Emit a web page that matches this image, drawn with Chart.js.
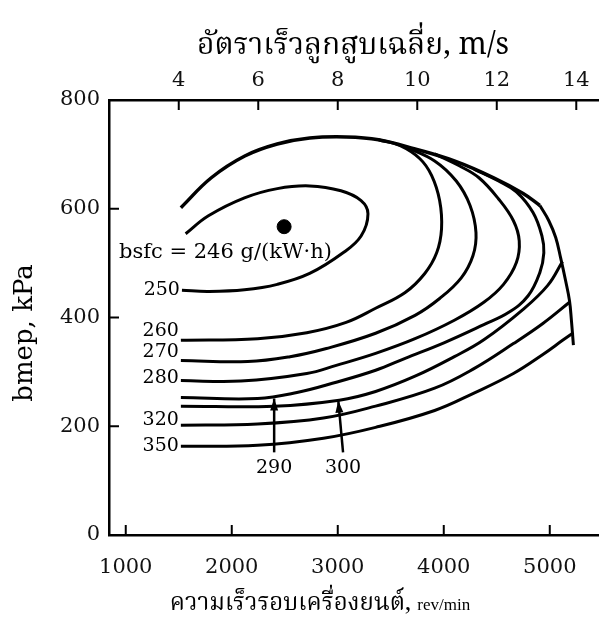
<!DOCTYPE html>
<html>
<head>
<meta charset="utf-8">
<script src="https://cdn.jsdelivr.net/npm/chart.js@4.4.0/dist/chart.umd.min.js"></script>
<style>
  html, body { margin: 0; padding: 0; background: #fff; }
</style>
</head>
<body>
<canvas id="bsfcMap" width="606" height="629"></canvas>
<script>
// bsfc contours: engine speed (rev/min) and bmep (kPa)
const rpm250 = [1530, 1780, 2120, 2430, 2735, 3050, 3220, 3285, 3220, 3030, 2735, 2430, 2120, 1780, 1565];
const bmep250 = [450, 448, 451, 461, 481, 519, 550, 591, 615, 633, 642, 637, 620, 587, 554];

const rpm260 = [1520, 2244, 2708, 3079, 3357, 3636, 3821, 3933, 3979, 3961, 3886, 3775, 3589, 3385];
const bmep260 = [358, 361, 372, 391, 417, 446, 481, 519, 563, 615, 661, 692, 716, 727];

const rpm270 = [1520, 2151, 2550, 2893, 3357, 3729, 3961, 4165, 4276, 4304, 4248, 4118, 3914, 3636];
const bmep270 = [321, 319, 328, 343, 371, 404, 435, 473, 514, 556, 606, 651, 688, 714];

const rpm280 = [1520, 2086, 2708, 2986, 3357, 3729, 4100, 4378, 4564, 4685, 4712, 4657, 4517, 4332, 4146, 3914];
const bmep280 = [284, 283, 297, 312, 334, 361, 395, 428, 461, 501, 541, 578, 618, 657, 679, 701];

const rpm290 = [1520, 2244, 2615, 2986, 3357, 3636, 4007, 4378, 4610, 4796, 4907, 4944, 4926, 4842, 4685, 4517, 4285];
const bmep290 = [253, 251, 262, 281, 303, 325, 354, 387, 409, 440, 483, 519, 550, 593, 631, 651, 673];

const rpm300 = [1520, 2401, 3014, 3357, 3729, 4100, 4378, 4749, 4981, 5120];
const bmep300 = [237, 237, 248, 264, 292, 328, 359, 415, 459, 503];

const rpm320 = [1520, 2244, 2865, 3357, 3914, 4285, 4657, 4935, 5186];
const bmep320 = [202, 204, 215, 237, 270, 306, 352, 389, 428];

const rpm350 = [1520, 2244, 2865, 3357, 3914, 4285, 4657, 4935, 5121, 5223];
const bmep350 = [163, 165, 178, 198, 229, 261, 297, 332, 358, 372];

// full-load line: top arc and the high-speed limit
const rpmTop = [1520, 1807, 2123, 2429, 2736, 3079, 3385, 3729, 4100, 4471, 4749, 4907];
const bmepTop = [602, 657, 697, 719, 730, 732, 727, 710, 688, 657, 628, 606];
const rpmLimit = [4907, 4991, 5056, 5102, 5149, 5186, 5204, 5223];
const bmepLimit = [606, 578, 547, 510, 468, 431, 395, 349];

// minimum bsfc point
const minRpm = [2494];
const minBmep = [567];

// contours labelled with arrows
const arrowLabels = ['290', '300'];
const arrowTailRpm = [2400, 3050];
const arrowTipRpm = [2400, 3005];
const arrowTailBmep = [152, 152];
const arrowTipBmep = [251, 247];

// axis ticks
const rpmTicks = [1000, 2000, 3000, 4000, 5000];
const speedTicks = [4, 6, 8, 10, 12, 14];   // mean piston speed, m/s
const bmepTicks = [0, 200, 400, 600, 800];
const rpmPerSpeed = 375;                    // stroke 80 mm: rpm = Sp * 60 / (2 * 0.08)

const contours = [
  { label: '250', rpm: rpm250, bmep: bmep250, dy: 0 },
  { label: '260', rpm: rpm260, bmep: bmep260, dy: -9 },
  { label: '270', rpm: rpm270, bmep: bmep270, dy: -8 },
  { label: '280', rpm: rpm280, bmep: bmep280, dy: -3 },
  { label: '', rpm: rpm290, bmep: bmep290, dy: 0 },
  { label: '', rpm: rpm300, bmep: bmep300, dy: 0 },
  { label: '320', rpm: rpm320, bmep: bmep320, dy: -5 },
  { label: '350', rpm: rpm350, bmep: bmep350, dy: 0 }
];

const toPoints = (xs, ys) => xs.map((v, i) => ({ x: v, y: ys[i] }));

const lineSet = (label, xs, ys, width) => ({
  type: 'line',
  label: label,
  data: toPoints(xs, ys),
  borderColor: '#000',
  borderWidth: width,
  pointRadius: 0,
  tension: 0.4,
  fill: false
});

const datasets = contours.map(c => lineSet(c.label, c.rpm, c.bmep, 3));
datasets.push(lineSet('full load', rpmTop, bmepTop, 3.5));
datasets.push(lineSet('speed limit', rpmLimit, bmepLimit, 3));
datasets.push({
  type: 'scatter',
  label: 'min bsfc',
  data: toPoints(minRpm, minBmep),
  backgroundColor: '#000',
  borderColor: '#000',
  pointRadius: 7
});

const serif = '"DejaVu Serif", "Liberation Serif", serif';
const thai = '"Noto Serif Thai", "Noto Sans Thai", Norasi, Loma, Garuda, serif';

const annotate = {
  id: 'annotate',
  afterDatasetsDraw(chart) {
    const { ctx, chartArea, scales } = chart;
    const x = scales.x, y = scales.y;
    ctx.save();
    ctx.strokeStyle = '#000';
    ctx.fillStyle = '#000';
    ctx.lineWidth = 2;

    const seg = (x1, y1, x2, y2) => {
      ctx.beginPath(); ctx.moveTo(x1, y1); ctx.lineTo(x2, y2); ctx.stroke();
    };

    // inward tick marks
    rpmTicks.forEach(v => {
      const px = x.getPixelForValue(v);
      seg(px, chartArea.bottom, px, chartArea.bottom - 10);
    });
    speedTicks.forEach(v => {
      const px = x.getPixelForValue(v * rpmPerSpeed);
      seg(px, chartArea.top, px, chartArea.top + 10);
    });
    bmepTicks.forEach(v => {
      const py = y.getPixelForValue(v);
      seg(chartArea.left, py, chartArea.left + 10, py);
    });

    // contour labels at the left end of each line
    ctx.font = '19px ' + serif;
    ctx.textAlign = 'right';
    ctx.textBaseline = 'middle';
    contours.forEach(c => {
      if (!c.label) return;
      const px = x.getPixelForValue(c.rpm[0]);
      const py = y.getPixelForValue(c.bmep[0]);
      ctx.fillText(c.label, px - 2, py + c.dy);
    });

    // arrows for 290 and 300
    ctx.textAlign = 'center';
    arrowLabels.forEach((lab, i) => {
      const tx = x.getPixelForValue(arrowTailRpm[i]);
      const ty = y.getPixelForValue(arrowTailBmep[i]);
      const hx = x.getPixelForValue(arrowTipRpm[i]);
      const hy = y.getPixelForValue(arrowTipBmep[i]);
      ctx.lineWidth = 2.5;
      seg(tx, ty, hx, hy);
      const ang = Math.atan2(hy - ty, hx - tx);
      ctx.beginPath();
      ctx.moveTo(hx, hy);
      ctx.lineTo(hx - 12 * Math.cos(ang) + 4 * Math.sin(ang), hy - 12 * Math.sin(ang) - 4 * Math.cos(ang));
      ctx.lineTo(hx - 12 * Math.cos(ang) - 4 * Math.sin(ang), hy - 12 * Math.sin(ang) + 4 * Math.cos(ang));
      ctx.closePath();
      ctx.fill();
      ctx.fillText(lab, tx, ty + 16);
    });

    // minimum bsfc label
    ctx.textAlign = 'left';
    ctx.font = '21px ' + serif;
    ctx.fillText('bsfc = 246 g/(kW\u00b7h)', chartArea.left + 10, y.getPixelForValue(519));

    // axis titles
    ctx.textAlign = 'center';
    ctx.textBaseline = 'alphabetic';
    ctx.font = '30px ' + thai;
    ctx.fillText('อัตราเร็วลูกสูบเฉลี่ย, m/s', 353, 54);

    const part1 = 'ความเร็วรอบเครื่องยนต์, ';
    const part2 = 'rev/min';
    ctx.font = '24px ' + thai;
    const w1 = ctx.measureText(part1).width;
    ctx.font = '17px "Liberation Serif", serif';
    const w2 = ctx.measureText(part2).width;
    const startX = 320 - (w1 + w2) / 2;
    ctx.textAlign = 'left';
    ctx.font = '24px ' + thai;
    ctx.fillText(part1, startX, 610);
    ctx.font = '17px "Liberation Serif", serif';
    ctx.fillText(part2, startX + w1, 610);

    ctx.translate(25, 333);
    ctx.rotate(-Math.PI / 2);
    ctx.textAlign = 'center';
    ctx.textBaseline = 'middle';
    ctx.font = '26px ' + serif;
    ctx.fillText('bmep, kPa', 0, 0);
    ctx.restore();
  }
};

const tickFont = { family: serif, size: 21 };
const plain = v => String(v);

new Chart(document.getElementById('bsfcMap'), {
  type: 'line',
  data: { datasets: datasets },
  options: {
    responsive: false,
    animation: false,
    parsing: false,
    layout: { padding: 0 },
    plugins: { legend: { display: false }, tooltip: { enabled: false } },
    scales: {
      x: {
        type: 'linear',
        position: 'bottom',
        min: 842,
        max: 5455,
        afterBuildTicks: s => { s.ticks = rpmTicks.map(v => ({ value: v })); },
        afterFit: s => { s.height = 94; },
        grid: { display: false, drawTicks: false },
        border: { display: true, color: '#000', width: 2.5 },
        ticks: { font: tickFont, color: '#111', padding: 20, maxRotation: 0, autoSkip: false, callback: plain }
      },
      x2: {
        type: 'linear',
        position: 'top',
        min: 842,
        max: 5455,
        afterBuildTicks: s => { s.ticks = speedTicks.map(v => ({ value: v * rpmPerSpeed })); },
        afterFit: s => { s.height = 100; },
        grid: { display: false, drawTicks: false },
        border: { display: true, color: '#000', width: 2.5 },
        ticks: {
          font: tickFont, color: '#111', padding: 7, maxRotation: 0, autoSkip: false,
          callback: v => String(Math.round(v / rpmPerSpeed))
        }
      },
      y: {
        type: 'linear',
        position: 'left',
        min: 0,
        max: 800,
        afterBuildTicks: s => { s.ticks = bmepTicks.map(v => ({ value: v })); },
        afterFit: s => { s.width = 109; },
        grid: { display: false, drawTicks: false },
        border: { display: true, color: '#000', width: 2.5 },
        ticks: { font: tickFont, color: '#111', padding: 9, callback: plain }
      }
    }
  },
  plugins: [annotate]
});
</script>
</body>
</html>
